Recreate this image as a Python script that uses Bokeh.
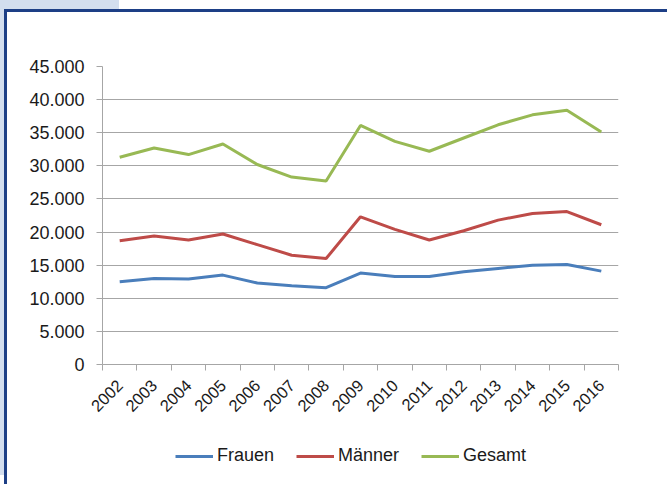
import math
from bokeh.plotting import figure
from bokeh.layouts import column
from bokeh.models import Range1d, FixedTicker, Legend, LegendItem
from bokeh.embed import file_html
from bokeh.resources import INLINE

years = list(range(2002, 2017))
frauen = [12500, 13000, 12900, 13500, 12300, 11900, 11600, 13800, 13300, 13300, 14000, 14500, 15000, 15100, 14100]
maenner = [18700, 19400, 18800, 19700, 18100, 16500, 16000, 22300, 20400, 18800, 20200, 21800, 22800, 23100, 21100]
gesamt = [31300, 32700, 31700, 33300, 30200, 28300, 27700, 36100, 33700, 32200, 34200, 36200, 37700, 38400, 35100]

y_ticks = [0, 5000, 10000, 15000, 20000, 25000, 30000, 35000, 40000, 45000]
y_labels = ["0", "5.000", "10.000", "15.000", "20.000", "25.000", "30.000", "35.000", "40.000", "45.000"]
series_names = ["Frauen", "Männer", "Gesamt"]
colors = ["#4a7ebb", "#be4b48", "#98b954"]

FONT = "Liberation Sans"
TXT = "#1a1a1a"
GRID = "#a6a6a6"
NAVY = "#1d3f86"
PALE = "#d3deee"

p = figure(frame_width=516, frame_height=298,
           x_range=Range1d(years[0] - 0.5, years[-1] + 0.5),
           y_range=Range1d(y_ticks[0], y_ticks[-1]),
           output_backend="svg", toolbar_location=None,
           min_border_left=95, min_border_right=49,
           min_border_top=54, min_border_bottom=70)
p.outline_line_color = None
p.background_fill_color = "white"
p.border_fill_color = "white"

p.xgrid.visible = False
p.ygrid.ticker = FixedTicker(ticks=y_ticks)
p.ygrid.grid_line_color = GRID
p.ygrid.grid_line_width = 1

ya = p.yaxis[0]
ya.ticker = FixedTicker(ticks=y_ticks)
ya.major_label_overrides = {t: l for t, l in zip(y_ticks, y_labels)}
ya.major_tick_in = 0
ya.major_tick_out = 6
ya.minor_tick_line_color = None
ya.axis_line_color = GRID
ya.major_tick_line_color = GRID
ya.major_label_standoff = 12
ya.major_label_text_font = FONT
ya.major_label_text_font_size = "18px"
ya.major_label_text_color = TXT

xa = p.xaxis[0]
xa.ticker = FixedTicker(ticks=years, minor_ticks=[y - 0.5 for y in years] + [years[-1] + 0.5])
xa.major_label_overrides = {y: str(y) for y in years}
xa.major_tick_in = 0
xa.major_tick_out = 0
xa.minor_tick_in = 0
xa.minor_tick_out = 6
xa.minor_tick_line_color = GRID
xa.axis_line_color = GRID
xa.major_label_orientation = math.pi / 4
xa.major_label_standoff = 12
xa.major_label_text_font = FONT
xa.major_label_text_font_size = "16.5px"
xa.major_label_text_color = TXT

for vals, c in zip([frauen, maenner, gesamt], colors):
    p.line(years, vals, line_color=c, line_width=3)

# legend strip below the chart
lg = figure(width=660, height=50, x_range=Range1d(0, 1), y_range=Range1d(0, 1),
            output_backend="svg", toolbar_location=None,
            x_axis_type=None, y_axis_type=None,
            min_border_left=0, min_border_right=0, min_border_top=0, min_border_bottom=0)
lg.outline_line_color = None
lg.xgrid.visible = False
lg.ygrid.visible = False
lg.background_fill_color = "white"
lg.border_fill_color = "white"

items = []
for name, vals, c in zip(series_names, [frauen, maenner, gesamt], colors):
    r = lg.line(years, vals, line_color=c, line_width=3, visible=False)
    items.append(LegendItem(label=name, renderers=[r]))

legend = Legend(items=items, orientation="horizontal", location=(73, 18),
                border_line_color=None, background_fill_alpha=0,
                inactive_fill_alpha=0,
                glyph_width=38, label_standoff=4, spacing=22,
                label_text_font=FONT, label_text_font_size="18px",
                label_text_color=TXT, margin=0, padding=4)
lg.add_layout(legend, "center")

layout = column(p, lg, spacing=0,
                styles={"margin-left": "4px", "margin-top": "9px",
                        "border-left": f"3px solid {NAVY}", "border-top": f"3px solid {NAVY}",
                        "box-shadow": f"115px -9px 0 0 white, -4px -9px 0 0 {PALE}"})

open("out.html", "w").write(file_html(layout, INLINE))
